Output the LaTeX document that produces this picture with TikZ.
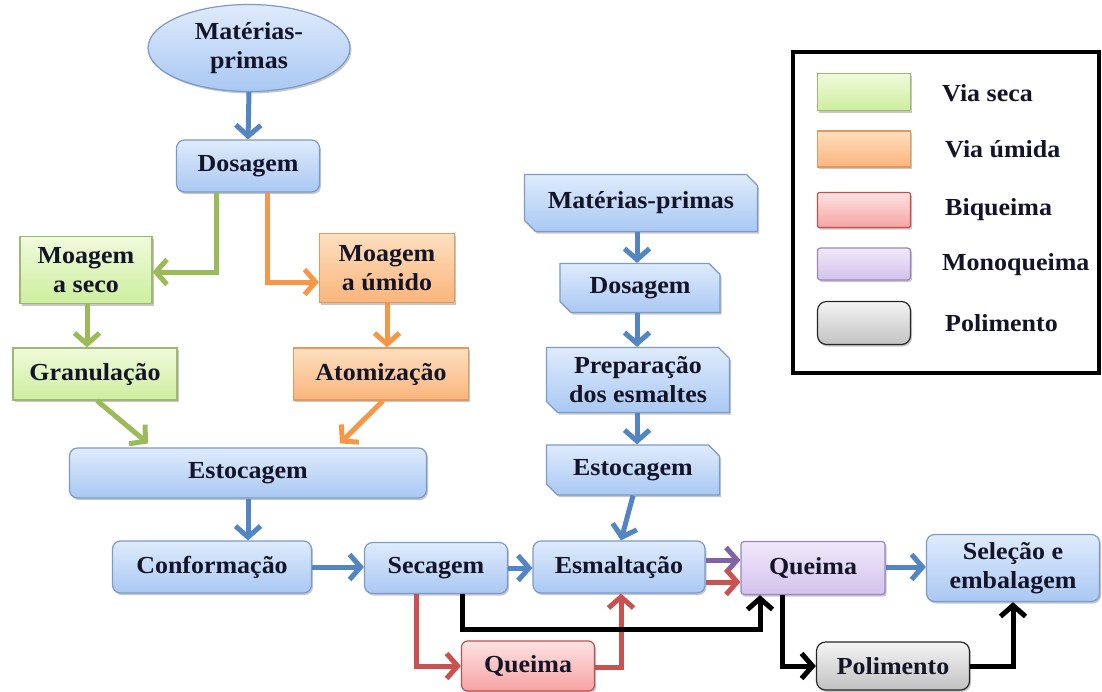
\documentclass[tikz,border=0pt]{standalone}
\usepackage{fontspec}
\setmainfont{Liberation Serif}[FakeStretch=1.06]
\usetikzlibrary{arrows.meta,shapes.geometric,shapes.misc,shadows}

% fills and outlines of the process boxes
\definecolor{txt}{HTML}{141428}
\definecolor{bluetop}{HTML}{DFEBFC}
\definecolor{bluebot}{HTML}{A9C8F3}
\definecolor{blueline}{HTML}{7B9BC9}
\definecolor{greentop}{HTML}{F0FADB}
\definecolor{greenbot}{HTML}{CDEE9E}
\definecolor{greenline}{HTML}{9DB872}
\definecolor{orangetop}{HTML}{FDDFBF}
\definecolor{orangebot}{HTML}{FBB57C}
\definecolor{orangeline}{HTML}{E29A5C}
\definecolor{redtop}{HTML}{FDE3E3}
\definecolor{redbot}{HTML}{F7A3A3}
\definecolor{redline}{HTML}{C0504D}
\definecolor{purpletop}{HTML}{F0E9F9}
\definecolor{purplebot}{HTML}{D3C2EC}
\definecolor{purpleline}{HTML}{9A86BE}
\definecolor{greytop}{HTML}{F4F4F4}
\definecolor{greybot}{HTML}{C2C2C2}
% connector colours
\definecolor{ablue}{HTML}{5285C4}
\definecolor{agreen}{HTML}{9BBB59}
\definecolor{aorange}{HTML}{F79646}
\definecolor{ared}{HTML}{C9514F}
\definecolor{apurple}{HTML}{8064A2}

\begin{document}
\begin{tikzpicture}[x=1pt, y=-1pt,
  font=\bfseries\fontsize{24.5}{29}\selectfont, text=txt,
  box/.style={draw, line width=1.2pt, align=center, inner sep=2pt,
    drop shadow={shadow xshift=1.5pt, shadow yshift=-2pt, opacity=0.22, fill=black}},
  bluebox/.style={box, rounded corners=8pt, top color=bluetop, bottom color=bluebot, draw=blueline},
  snipbox/.style={box, chamfered rectangle, chamfered rectangle corners={north east,south west},
    chamfered rectangle xsep=8pt, top color=bluetop, bottom color=bluebot, draw=blueline},
  greenbox/.style={box, top color=greentop, bottom color=greenbot, draw=greenline},
  orangebox/.style={box, top color=orangetop, bottom color=orangebot, draw=orangeline},
  redbox/.style={box, rounded corners=6pt, top color=redtop, bottom color=redbot, draw=redline},
  purplebox/.style={box, rounded corners=3pt, top color=purpletop, bottom color=purplebot, draw=purpleline},
  greybox/.style={box, rounded corners=9pt, top color=greytop, bottom color=greybot, draw=black!85},
  flow/.style={line width=5pt, -{Straight Barb[length=11pt,width=25pt,line width=5pt]}},
  bflow/.style={flow, draw=ablue},
  gflow/.style={flow, draw=agreen},
  oflow/.style={flow, draw=aorange},
  rflow/.style={flow, draw=ared},
  pflow/.style={flow, draw=apurple},
  kflow/.style={flow, draw=black},
  legtext/.style={anchor=west, inner sep=0pt}
]
\useasboundingbox (0,0) rectangle (1102,691);
\fill[white] (0,0) rectangle (1102,691);

% ---- body preparation ----
\node[box, ellipse, inner sep=0pt, minimum width=202pt, minimum height=87pt,
      top color=bluetop, bottom color=bluebot, draw=blueline] (mp1) at (249,48) {Matérias-\\primas};
\node[bluebox, minimum width=143pt, minimum height=52pt] (dos1) at (248,166) {Dosagem};
\node[greenbox, minimum width=132pt, minimum height=67pt] (mseco) at (86,270) {Moagem\\a seco};
\node[orangebox, minimum width=135pt, minimum height=69pt] (mumido) at (387,268) {Moagem\\a úmido};
\node[greenbox, minimum width=164pt, minimum height=52pt] (gran) at (95,374) {Granulação};
\node[orangebox, minimum width=175pt, minimum height=52pt] (atom) at (381,374) {Atomização};
\node[bluebox, minimum width=357pt, minimum height=50pt] (est1) at (248,473) {Estocagem};
\node[bluebox, minimum width=199pt, minimum height=52pt] (conf) at (212,567) {Conformação};
\node[bluebox, minimum width=143pt, minimum height=51pt] (sec) at (436,568) {Secagem};
\node[bluebox, minimum width=172pt, minimum height=52pt] (esm) at (619,567) {Esmaltação};
\node[purplebox, minimum width=144pt, minimum height=53pt] (q2) at (813,568) {Queima};
\node[bluebox, minimum width=173pt, minimum height=67pt] (sel) at (1013,568) {Seleção e\\embalagem};
\node[redbox, minimum width=133pt, minimum height=50pt] (q1) at (528,666) {Queima};
\node[greybox, minimum width=153pt, minimum height=48pt] (pol) at (893,666) {Polimento};

% ---- glaze preparation ----
\node[snipbox, minimum width=233pt, minimum height=57pt] (mp2) at (641,203) {Matérias-primas};
\node[snipbox, minimum width=160pt, minimum height=49pt] (dos2) at (640,288) {Dosagem};
\node[snipbox, minimum width=183pt, minimum height=65pt] (prep) at (638,380) {Preparação\\dos esmaltes};
\node[snipbox, minimum width=173pt, minimum height=50pt] (est2) at (633,470) {Estocagem};

% ---- connectors ----
\draw[bflow] (mp1.south) -- (dos1.north);
\draw[gflow] ([xshift=-32pt]dos1.south) |- ([yshift=-2pt]mseco.east);
\draw[oflow] ([xshift=19pt]dos1.south) |- ([yshift=-14pt]mumido.west);
\draw[gflow] ([xshift=1pt]mseco.south) -- ([xshift=1pt]mseco.south |- gran.north);
\draw[oflow] (mumido.south) -- (mumido.south |- atom.north);
\draw[gflow] ([xshift=2pt]gran.south) -- ([xshift=-100pt,yshift=4pt]est1.north);
\draw[oflow] ([xshift=2pt]atom.south) -- ([xshift=92pt,yshift=4pt]est1.north);
\draw[bflow] (est1.south) -- (est1.south |- conf.north);
\draw[bflow] (conf.east) -- (conf.east -| sec.west);
\draw[bflow] (sec.east) -- (sec.east -| esm.west);

\draw[bflow] ([xshift=-4pt]mp2.south) -- ([xshift=-3pt]dos2.north);
\draw[bflow] ([xshift=-3pt]dos2.south) -- ([xshift=-1pt]prep.north);
\draw[bflow] ([xshift=-1pt]prep.south) -- ([xshift=4pt]est2.north);
\draw[bflow] (est2.south) -- ([xshift=2pt]esm.north);

\draw[pflow] ([yshift=7pt]esm.east) -- ([yshift=7pt]esm.east -| q2.west);
\draw[rflow] ([yshift=-15pt]esm.east) -- ([yshift=-15pt]esm.east -| q2.west);
\draw[bflow] ([yshift=1pt]q2.east) -- ([yshift=1pt]q2.east -| sel.west);

\draw[rflow] ([xshift=-20pt]sec.south) |- (q1.west);
\draw[rflow] ([yshift=-1pt]q1.east) -| ([xshift=2pt]esm.south);
\draw[kflow] ([xshift=26pt]sec.south) -- ++(0,35) -| ([xshift=-53pt]q2.south);
\draw[kflow] ([xshift=-31pt]q2.south) |- (pol.west);
\draw[kflow] (pol.east) -| (sel.south);

% ---- legend ----
\node[draw, line width=4pt, minimum width=306pt, minimum height=321pt, inner sep=0pt] (legend) at (946,212.5) {};
\node[greenbox, minimum width=93pt, minimum height=37pt] (lg1) at (864,92) {};
\node[orangebox, minimum width=93pt, minimum height=36pt] (lg2) at (864,149) {};
\node[redbox, rounded corners=2pt, minimum width=93pt, minimum height=35pt] (lg3) at (864,210) {};
\node[purplebox, minimum width=93pt, minimum height=32pt] (lg4) at (864,264) {};
\node[greybox, minimum width=93pt, minimum height=43pt] (lg5) at (864,323) {};
\node[legtext] (lt1) at (942,93) {Via seca};
\node[legtext] (lt2) at (945,149) {Via úmida};
\node[legtext] (lt3) at (945,210) {Biqueima};
\node[legtext] (lt4) at (942,265) {Monoqueima};
\node[legtext] (lt5) at (945,323) {Polimento};
\end{tikzpicture}
\end{document}
